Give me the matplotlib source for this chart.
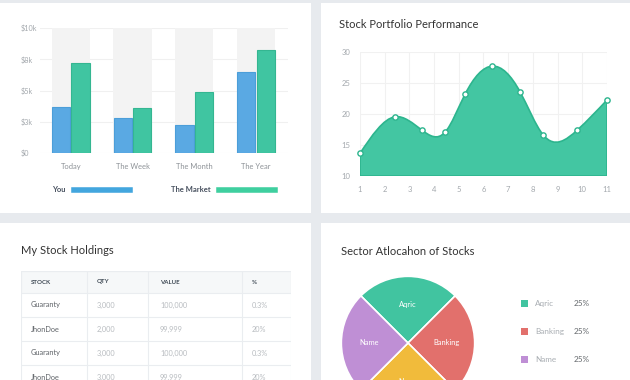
import matplotlib
matplotlib.use("Agg")
import matplotlib.pyplot as plt
from matplotlib.patches import Rectangle, Patch, PathPatch
from matplotlib.lines import Line2D
from matplotlib.path import Path
import numpy as np

plt.rcParams['font.family'] = ['Lato', 'DejaVu Sans']

# ---- data ----
periods = ['Today', 'The Week', 'The Month', 'The Year']
you = [3.71, 2.79, 2.25, 6.50]          # $k
market = [7.24, 3.58, 4.91, 8.28]       # $k
bar_ceiling = 10
money_ticks = [0, 2.5, 5, 7.5, 10]
money_labels = ['$0', '$3k', '$5k', '$8k', '$10k']

perf_x = [1.0, 2.42, 3.50, 4.44, 5.25, 6.36, 7.48, 8.42, 9.80, 11.0]
perf_y = [13.65, 19.53, 17.40, 17.03, 23.13, 27.68, 23.55, 16.59, 17.40, 22.22]

table_cols = ['STOCK', 'QTY', 'VALUE', '%']
stock_names = ['Guaranty', 'JhonDoe', 'Guaranty', 'JhonDoe']
stock_qty = ['3,000', '2,000', '3,000', '3,000']
stock_value = ['100,000', '99,999', '100,000', '99,999']
stock_pct = ['0.3%', '20%', '0.3%', '20%']

sectors = ['Aqric', 'Banking', 'Name', 'Name']
sector_share = [25, 25, 25, 25]
sector_pct = ['25%', '25%', '25%', '25%']

# ---- style ----
BLUE, GREEN = '#5aa9e3', '#40c5a1'
SECTOR_COLORS = ['#41c4a0', '#e2706c', '#f1bb3b', '#bf8fd5']
W, H = 630, 380


def px_box(x0, y0, x1, y1):
    return [x0 / W, 1 - y1 / H, (x1 - x0) / W, (y1 - y0) / H]


def natural_slopes(x, y):
    # first derivatives of a natural cubic spline through (x, y)
    x = np.asarray(x, float)
    y = np.asarray(y, float)
    n = len(x)
    h = np.diff(x)
    A = np.zeros((n, n))
    b = np.zeros(n)
    A[0, 0] = A[-1, -1] = 1
    for i in range(1, n - 1):
        A[i, i - 1] = h[i - 1]
        A[i, i] = 2 * (h[i - 1] + h[i])
        A[i, i + 1] = h[i]
        b[i] = 6 * ((y[i + 1] - y[i]) / h[i] - (y[i] - y[i - 1]) / h[i - 1])
    M = np.linalg.solve(A, b)
    d = np.zeros(n)
    for i in range(n - 1):
        d[i] = (y[i + 1] - y[i]) / h[i] - h[i] * (2 * M[i] + M[i + 1]) / 6
    d[-1] = (y[-1] - y[-2]) / h[-1] + h[-1] * (M[-2] + 2 * M[-1]) / 6
    return d


fig = plt.figure(figsize=(6.3, 3.8), dpi=100, facecolor='#e7eaee')

for (x0, y0, x1, y1) in [(0, 3, 311, 213), (321, 3, 630, 213),
                         (0, 223, 311, 380), (321, 223, 630, 380)]:
    fig.add_artist(Rectangle((x0 / W, 1 - y1 / H), (x1 - x0) / W, (y1 - y0) / H,
                             transform=fig.transFigure, facecolor='white',
                             edgecolor='none', zorder=-1))

# ---- bar chart ----
ax1 = fig.add_axes(px_box(40, 28, 288, 153))
ax1.set_facecolor('none')
idx = np.arange(len(periods))
ax1.bar(idx, [bar_ceiling] * len(periods), width=0.62, color='#f3f3f3', zorder=1)
ax1.bar(idx - 0.158, you, width=0.295, color=BLUE, edgecolor='#4b9ed9', linewidth=0.8, zorder=2)
ax1.bar(idx + 0.158, market, width=0.295, color=GREEN, edgecolor='#34b691', linewidth=0.8, zorder=2)
ax1.set_xlim(-0.5, 3.52)
ax1.set_ylim(0, 10)
ax1.set_yticks(money_ticks)
ax1.set_yticklabels(money_labels)
ax1.set_xticks(idx)
ax1.set_xticklabels(periods)
for s in ax1.spines.values():
    s.set_visible(False)
ax1.grid(axis='y', color='#f0f0f0', linewidth=0.8, zorder=0)
ax1.set_axisbelow(True)
ax1.tick_params(axis='y', length=0, pad=14, labelsize=5.2, labelcolor='#a3a8ad')
ax1.tick_params(axis='x', length=0, pad=7, labelsize=5.4, labelcolor='#8d9297')
for lab in ax1.get_yticklabels():
    lab.set_horizontalalignment('left')

fig.legend([Line2D([], [], color='#43a6de', lw=4), Line2D([], [], color='#3fcf9f', lw=4)],
           ['You', 'The Market'], loc='center left', bbox_to_anchor=(52 / W, 1 - 190 / H),
           ncol=2, frameon=False, markerfirst=False, borderpad=0, borderaxespad=0,
           handlelength=7.3, handletextpad=1.1, columnspacing=5.4,
           prop={'weight': 'bold', 'size': 5.5}, labelcolor='#4a5361')

# ---- performance area chart ----
ax2 = fig.add_axes(px_box(360, 51.7, 607, 176))
ax2.set_facecolor('none')
ax2.set_xlim(1, 11)
ax2.set_ylim(10, 30)
ax2.set_xticks(range(1, 12))
ax2.set_yticks(range(10, 31, 5))
for s in ax2.spines.values():
    s.set_visible(False)
ax2.grid(color='#f1f1f1', linewidth=0.8)
ax2.set_axisbelow(True)
ax2.tick_params(length=0, labelsize=5.5, labelcolor='#a3a8ad', pad=7)

# natural cubic spline through the points, written as Bezier segments
slopes = natural_slopes(perf_x, perf_y)
verts = [(perf_x[0], 10), (perf_x[0], perf_y[0])]
codes = [Path.MOVETO, Path.LINETO]
for i in range(len(perf_x) - 1):
    h = (perf_x[i + 1] - perf_x[i]) / 3
    verts += [(perf_x[i] + h, perf_y[i] + h * slopes[i]),
              (perf_x[i + 1] - h, perf_y[i + 1] - h * slopes[i + 1]),
              (perf_x[i + 1], perf_y[i + 1])]
    codes += [Path.CURVE4] * 3
verts += [(perf_x[-1], 10), (perf_x[0], 10)]
codes += [Path.LINETO, Path.CLOSEPOLY]
ax2.add_patch(PathPatch(Path(verts, codes), facecolor='#43c6a2',
                        edgecolor='#2db58e', linewidth=1.2, zorder=2))
ax2.plot(perf_x, perf_y, 'o', markersize=3.8, markerfacecolor='white',
         markeredgecolor='#2db58e', markeredgewidth=1, zorder=3, clip_on=False)
fig.text(339 / W, 1 - 24 / H, 'Stock Portfolio Performance', va='center',
         size=8, color='#333333')

# ---- holdings table ----
fig.text(21 / W, 1 - 251 / H, 'My Stock Holdings', va='center', size=8, color='#333333')
ax3 = fig.add_axes(px_box(21, 271, 291, 389))
ax3.set_xlim(0, 270)
ax3.set_ylim(118, 0)
ax3.axis('off')
LINE = '#eaedf0'
col_x = [10, 76, 139, 231]
col_div = [66, 127, 221]
ax3.add_patch(Rectangle((0, 0), 270, 22, facecolor='#f6f8f9', edgecolor=LINE, lw=0.8))
ax3.add_patch(Rectangle((0, 0), 270, 118, facecolor='none', edgecolor=LINE, lw=0.8))
for xd in col_div:
    ax3.plot([xd, xd], [0, 118], color=LINE, lw=0.8)
for j, name in enumerate(table_cols):
    ax3.text(col_x[j], 11, name, va='center', size=4.4, weight='bold', color='#3f4a55')
for i in range(len(stock_names)):
    yc = 22 + 24 * i + 12
    ax3.plot([0, 270], [22 + 24 * (i + 1)] * 2, color=LINE, lw=0.8)
    row = [stock_names[i], stock_qty[i], stock_value[i], stock_pct[i]]
    for j, val in enumerate(row):
        ax3.text(col_x[j], yc, val, va='center', size=5.3,
                 color='#5f6368' if j == 0 else '#b8bcc0')

# ---- sector pie ----
fig.text(341 / W, 1 - 251 / H, 'Sector Atlocahon of Stocks', va='center', size=8, color='#333333')
ax4 = fig.add_axes(px_box(340, 275, 476, 411))
wedges, texts = ax4.pie(sector_share, colors=SECTOR_COLORS, startangle=135, counterclock=False,
                        labels=sectors, labeldistance=0.58,
                        wedgeprops=dict(edgecolor='white', linewidth=1.2),
                        textprops=dict(color='white', size=5.4, ha='center', va='center'))
ax4.set_xlim(-1.02, 1.02)
ax4.set_ylim(-1.02, 1.02)
ax4.set_aspect('equal')

order = [0, 1, 3, 2]
fig.legend([Patch(facecolor=SECTOR_COLORS[k]) for k in order], [sectors[k] for k in order],
           loc='upper left', bbox_to_anchor=(521 / W, 1 - 300 / H), frameon=False,
           borderpad=0, borderaxespad=0, handlelength=0.9, handleheight=0.9,
           handletextpad=0.8, labelspacing=2.55, prop={'size': 5.9}, labelcolor='#a8adb2')
fig.legend([Patch(alpha=0) for k in order], [sector_pct[k] for k in order],
           loc='upper left', bbox_to_anchor=(574 / W, 1 - 300 / H), frameon=False,
           borderpad=0, borderaxespad=0, handlelength=0, handleheight=0.9,
           handletextpad=0, labelspacing=2.55, prop={'size': 5.9}, labelcolor='#666a6e')

fig.savefig('out.png', dpi=100, facecolor=fig.get_facecolor())
